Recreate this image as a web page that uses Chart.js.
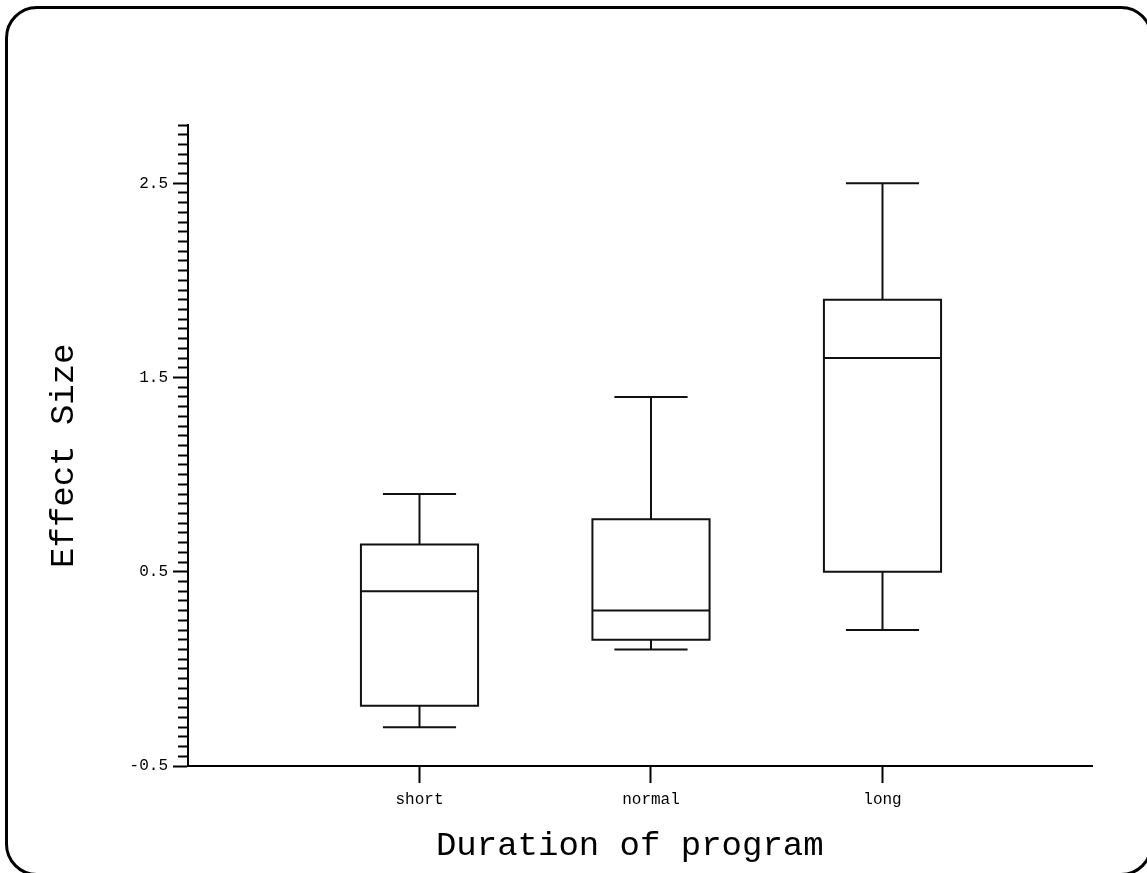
<!DOCTYPE html>
<html>
<head>
<meta charset="utf-8">
<title>Effect Size by Duration of program</title>
<script src="https://cdn.jsdelivr.net/npm/chart.js"></script>
<style>
  html, body { margin: 0; padding: 0; background: #fff; overflow: hidden; }
  #wrap { position: relative; width: 1147px; height: 873px; }
  #frame {
    position: absolute; left: 5px; top: 6px;
    width: 1142px; height: 864px;
    border: 3px solid #000; border-radius: 32px;
    pointer-events: none;
  }
</style>
</head>
<body>
<div id="wrap">
  <canvas id="boxChart"></canvas>
  <div id="frame"></div>
</div>
<script>
// groups on the x axis
var categories = ['short', 'normal', 'long'];
var categoryPos = [1, 2, 3];

// box plot summaries
var whiskerLow  = [-0.30, 0.10, 0.20];
var q1          = [-0.19, 0.15, 0.50];
var median      = [0.40, 0.30, 1.60];
var q3          = [0.64, 0.77, 1.90];
var whiskerHigh = [0.90, 1.40, 2.50];

// labelled y ticks (minor ticks every 0.05 have no label)
var yTickLabels = [-0.5, 0.5, 1.5, 2.5];

var BOX_HALF = 0.253;
var CAP_HALF = 0.158;
var GAP = {x: null, y: null};

function isMajor(v) {
  for (var i = 0; i < yTickLabels.length; i++) {
    if (Math.abs(v - yTickLabels[i]) < 1e-6) return true;
  }
  return false;
}

var datasets = [];
for (var i = 0; i < categories.length; i++) {
  var x = categoryPos[i];
  var pts = [
    // box
    {x: x, y: q1[i]}, {x: x + BOX_HALF, y: q1[i]}, {x: x + BOX_HALF, y: q3[i]},
    {x: x - BOX_HALF, y: q3[i]}, {x: x - BOX_HALF, y: q1[i]}, {x: x, y: q1[i]},
    GAP,
    // median
    {x: x - BOX_HALF, y: median[i]}, {x: x + BOX_HALF, y: median[i]},
    GAP,
    // upper whisker + cap
    {x: x, y: q3[i]}, {x: x, y: whiskerHigh[i]},
    GAP,
    {x: x - CAP_HALF, y: whiskerHigh[i]}, {x: x + CAP_HALF, y: whiskerHigh[i]},
    GAP,
    // lower whisker + cap
    {x: x, y: q1[i]}, {x: x, y: whiskerLow[i]},
    GAP,
    {x: x - CAP_HALF, y: whiskerLow[i]}, {x: x + CAP_HALF, y: whiskerLow[i]}
  ];
  datasets.push({
    label: categories[i],
    data: pts,
    showLine: true,
    spanGaps: false,
    borderColor: '#111',
    borderWidth: 2,
    borderJoinStyle: 'miter',
    borderCapStyle: 'butt',
    tension: 0,
    pointRadius: 0,
    pointHoverRadius: 0,
    fill: false
  });
}

var tickFont = {family: 'Liberation Mono', size: 16};
var titleFont = {family: 'Liberation Mono', size: 34};

var ctx = document.getElementById('boxChart');
var boxChart = new Chart(ctx, {
  type: 'scatter',
  data: {datasets: datasets},
  options: {
    responsive: true,
    maintainAspectRatio: false,
    animation: false,
    layout: {padding: {top: 125, right: 55, left: 0, bottom: 0}},
    plugins: {
      legend: {display: false},
      tooltip: {enabled: false}
    },
    scales: {
      x: {
        type: 'linear',
        min: 0,
        max: 3.905,
        afterBuildTicks: function(scale) {
          scale.ticks = categoryPos.map(function(v) { return {value: v}; });
        },
        afterFit: function(scale) { scale.height = 107; },
        border: {color: '#000', width: 2},
        grid: {drawOnChartArea: false, tickLength: 17, tickWidth: 2, tickColor: '#000'},
        ticks: {
          autoSkip: false,
          maxRotation: 0,
          padding: 7,
          color: '#000',
          font: tickFont,
          callback: function(value) {
            var k = categoryPos.indexOf(value);
            return k >= 0 ? categories[k] : '';
          }
        },
        title: {
          display: true,
          text: 'Duration of program ',
          color: '#000',
          font: titleFont,
          padding: {top: 0, bottom: 7}
        }
      },
      y: {
        type: 'linear',
        min: -0.5,
        max: 2.8,
        afterFit: function(scale) { scale.width = 188; },
        border: {color: '#000', width: 2},
        grid: {
          drawOnChartArea: false,
          tickLength: 15,
          tickWidth: 2,
          tickColor: '#000',
          // minor ticks: skip the first 5px so they look shorter
          tickBorderDash: function(c) {
            return (c.tick && !isMajor(c.tick.value)) ? [10, 5] : [];
          },
          tickBorderDashOffset: function(c) {
            return (c.tick && !isMajor(c.tick.value)) ? 10 : 0;
          }
        },
        ticks: {
          stepSize: 0.05,
          autoSkip: false,
          padding: 5,
          color: '#000',
          font: tickFont,
          callback: function(value) {
            return isMajor(value) ? value.toFixed(1) : '';
          }
        },
        title: {
          display: true,
          text: 'Effect Size ',
          color: '#000',
          font: titleFont,
          padding: {top: 44, bottom: 0}
        }
      }
    }
  }
});
</script>
</body>
</html>
